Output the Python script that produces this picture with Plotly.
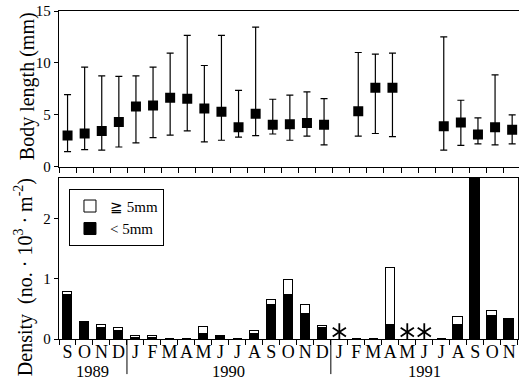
import plotly.graph_objects as go

# Sampling months, Sep 1989 – Nov 1991
months = list("SONDJFMAMJJASONDJFMAMJJASON")
years = ["1989", "1990", "1991"]
year_first_month = [0, 4, 16]          # index of the first sampled month in each year

# Body length (mm): mean, maximum and minimum per month (None = no sample)
bl_mean = [3.0, 3.2, 3.45, 4.3, 5.8, 5.9, 6.65, 6.55, 5.6, 5.3, 3.8, 5.1, 4.05, 4.1,
           4.2, 4.05, None, 5.35, 7.6, 7.6, None, None, 3.9, 4.25, 3.1, 3.8, 3.55]
bl_max = [6.95, 9.6, 8.75, 8.7, 8.75, 9.6, 10.95, 12.65, 9.75, 12.65, 7.35, 13.45, 6.5, 6.9,
          7.2, 6.55, None, 11.0, 10.85, 10.95, None, None, 12.5, 6.4, 4.7, 8.85, 5.0]
bl_min = [1.45, 1.65, 1.6, 1.9, 2.3, 2.8, 3.05, 3.45, 2.4, 2.55, 2.85, 3.0, 3.15, 2.55,
          2.95, 2.1, None, 2.95, 3.2, 2.9, None, None, 1.6, 2.05, 2.2, 2.1, 2.2]

# Density (no. x 10^3 m^-2) by size class (None = no sample)
dens_small = [0.74, 0.27, 0.18, 0.13, 0.01, 0.01, 0.003, 0.003, 0.09, 0.03, 0.003, 0.09,
              0.56, 0.74, 0.42, 0.18, None, 0.003, 0.003, 0.24, None, None, 0.003, 0.24,
              2.8, 0.39, 0.34]
dens_large = [0.05, 0.017, 0.06, 0.05, 0.035, 0.035, 0.0, 0.0, 0.11, 0.025, 0.0, 0.037,
              0.09, 0.24, 0.15, 0.04, None, 0.0, 0.0, 0.95, None, None, 0.0, 0.12,
              0.0, 0.08, 0.0]

FONT = "Liberation Serif"
n = len(months)
x = list(range(n))

err_plus = [None if m is None else hi - m for m, hi in zip(bl_mean, bl_max)]
err_minus = [None if m is None else m - lo for m, lo in zip(bl_mean, bl_min)]

fig = go.Figure()

# Upper panel: mean body length with range bars
fig.add_trace(go.Scatter(
    x=x, y=bl_mean, mode="markers", xaxis="x", yaxis="y", showlegend=False,
    marker=dict(symbol="square", size=10, color="black"),
    error_y=dict(type="data", symmetric=False, array=err_plus, arrayminus=err_minus,
                 color="black", thickness=1.2, width=3.5),
))

# Lower panel: stacked density bars
fig.add_trace(go.Bar(
    x=x, y=dens_small, xaxis="x2", yaxis="y2", name="< 5mm", width=0.56,
    marker=dict(color="black", line=dict(color="black", width=1)),
))
fig.add_trace(go.Bar(
    x=x, y=dens_large, xaxis="x2", yaxis="y2", name="≧ 5mm", width=0.56,
    marker=dict(color="white", line=dict(color="black", width=1)),
))

# Six-armed asterisks for months without samples (two overlaid Y glyphs)
no_sample = [i for i, v in enumerate(dens_small) if v is None]
for sym in ("y-up-open", "y-down-open"):
    fig.add_trace(go.Scatter(
        x=no_sample, y=[0.115] * len(no_sample), xaxis="x3", yaxis="y2", mode="markers",
        showlegend=False, hoverinfo="skip",
        marker=dict(symbol=sym, size=11, color="black", line=dict(color="black", width=1.8)),
    ))

axis_common = dict(showgrid=False, zeroline=False, showline=True, linecolor="black",
                   linewidth=1.3, tickcolor="black", tickwidth=1.2)
boundaries = [k - 0.5 for k in range(n + 1)]

annotations = []
ends = year_first_month[1:] + [n]
for yr, first, end in zip(years, year_first_month, ends):
    annotations.append(dict(
        x=(first + end - 1) / 2, y=-0.099, xref="x2", yref="paper", text=yr,
        xanchor="center", yanchor="middle", showarrow=False,
        font=dict(family=FONT, size=16.5, color="black"),
    ))
annotations.append(dict(
    x=-0.068, y=0.77, xref="paper", yref="paper", textangle=-90,
    xanchor="center", yanchor="middle", text="Body length (mm)", showarrow=False,
    font=dict(family=FONT, size=20, color="black"),
))
annotations.append(dict(
    x=-0.078, y=0.189, xref="paper", yref="paper", textangle=-90,
    xanchor="center", yanchor="middle",
    text="Density  (no. · 10<sup>3</sup> · m<sup>-2</sup>)", showarrow=False,
    font=dict(family=FONT, size=20, color="black"),
))

shapes = []
for first in year_first_month[1:]:
    shapes.append(dict(type="line", xref="x2", yref="paper", x0=first - 0.5, x1=first - 0.5,
                       y0=0, y1=-0.107, line=dict(color="black", width=1)))

fig.update_layout(
    width=519, height=381,
    margin=dict(l=59, r=0, t=11, b=42),
    paper_bgcolor="white", plot_bgcolor="white",
    font=dict(family=FONT, color="black"),
    barmode="stack", bargap=0,
    xaxis=dict(domain=[0, 1], range=[-0.5, 26.4], anchor="y", mirror=True,
               tickmode="array", tickvals=boundaries, ticks="outside", ticklen=5,
               showticklabels=False, **axis_common),
    yaxis=dict(domain=[0.5253, 1], range=[0, 15], anchor="x", tickvals=[0, 5, 10, 15],
               ticks="outside", ticklen=4, tickfont=dict(size=15), **axis_common),
    xaxis2=dict(domain=[0, 0.9972], range=[-0.5, 26.5], anchor="y2", mirror=True,
                tickmode="array", tickvals=boundaries, ticks="outside", ticklen=5,
                showticklabels=False, **axis_common),
    xaxis3=dict(overlaying="x2", anchor="y2", range=[-0.5, 26.5], side="bottom",
                tickmode="array", tickvals=x, ticktext=months, ticks="", tickangle=0,
                showline=False, showgrid=False, zeroline=False,
                tickfont=dict(size=18)),
    yaxis2=dict(domain=[0, 0.4909], range=[0, 2.683], anchor="x2", mirror=True,
                tickvals=[0, 1, 2], ticks="outside", ticklen=4, tickfont=dict(size=15),
                **axis_common),
    legend=dict(x=0.0217, y=0.458, xanchor="left", yanchor="top", traceorder="reversed",
                bordercolor="black", borderwidth=1, bgcolor="white",
                font=dict(family=FONT, size=15, color="black")),
    annotations=annotations,
    shapes=shapes,
)

fig.write_html("out.html")
